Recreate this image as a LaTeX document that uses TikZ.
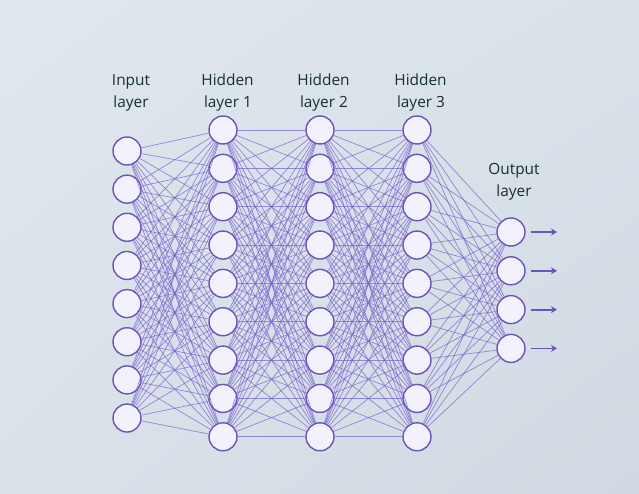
\documentclass[tikz,border=0pt]{standalone}
\usepackage{fontspec}
\setmainfont{Open Sans}
\usetikzlibrary{arrows.meta,shadings}
\definecolor{bgA}{HTML}{E0E7EE}
\definecolor{bgB}{HTML}{D9E1E9}
\definecolor{bgC}{HTML}{D1D9E2}
\definecolor{nodeline}{HTML}{6A53BD}
\definecolor{nodefill}{HTML}{F3F2FC}
\definecolor{edgecol}{HTML}{7560CF}
\definecolor{labelcol}{HTML}{17302D}
\begin{document}
\begin{tikzpicture}[x=1pt,y=-1pt,
  neuron/.style={circle,draw=nodeline,fill=nodefill,line width=1.4pt,minimum size=28pt,inner sep=0pt},
  edge/.style={draw=edgecol,line width=0.7pt,opacity=0.7},
  outarrow/.style={draw=nodeline,line width=1.8pt,-{Stealth[length=6pt,width=7pt]},shorten <=5pt},
  lbl/.style={text=labelcol,font=\fontsize{15.4}{22}\selectfont,anchor=base,inner sep=0pt}]
\shade[upper left=bgA,upper right=bgB,lower left=bgB,lower right=bgC] (0,0) rectangle (639,494);
\useasboundingbox (0,0) rectangle (639,494);
% labels
\node[lbl] (tIn1) at (131,86) {Input};
\node[lbl] (tIn2) at (131,108) {layer};
\node[lbl] (tH11) at (227.5,86) {Hidden};
\node[lbl] (tH12) at (228,108) {layer 1};
\node[lbl] (tH21) at (323.5,86) {Hidden};
\node[lbl] (tH22) at (324,108) {layer 2};
\node[lbl] (tH31) at (420.5,86) {Hidden};
\node[lbl] (tH32) at (421,108) {layer 3};
\node[lbl] (tO1) at (514,175) {Output};
\node[lbl] (tO2) at (514,196.5) {layer};
% neurons
\foreach \k in {1,...,8} \node[neuron] (i\k) at (127,{151+38.15*(\k-1)}) {};
\foreach \k in {1,...,9} {
  \node[neuron] (a\k) at (223,{130+38.35*(\k-1)}) {};
  \node[neuron] (b\k) at (320,{130+38.35*(\k-1)}) {};
  \node[neuron] (c\k) at (417,{130+38.35*(\k-1)}) {};
}
\foreach \k in {1,...,4} {
  \node[neuron] (o\k) at (511,{232+38.8*(\k-1)}) {};
  \coordinate (e\k) at (557,{232+38.8*(\k-1)});
}
% edges
\foreach \p in {1,...,8} \foreach \q in {1,...,9} \draw[edge] (i\p) -- (a\q);
\foreach \p in {1,...,9} \foreach \q in {1,...,9} {
  \draw[edge] (a\p) -- (b\q);
  \draw[edge] (b\p) -- (c\q);
}
\foreach \p in {1,...,9} \foreach \q in {1,...,4} \draw[edge] (c\p) -- (o\q);
% output arrows
\foreach \k in {1,...,4} \draw[outarrow] (o\k.east) -- (e\k);
\end{tikzpicture}
\end{document}
